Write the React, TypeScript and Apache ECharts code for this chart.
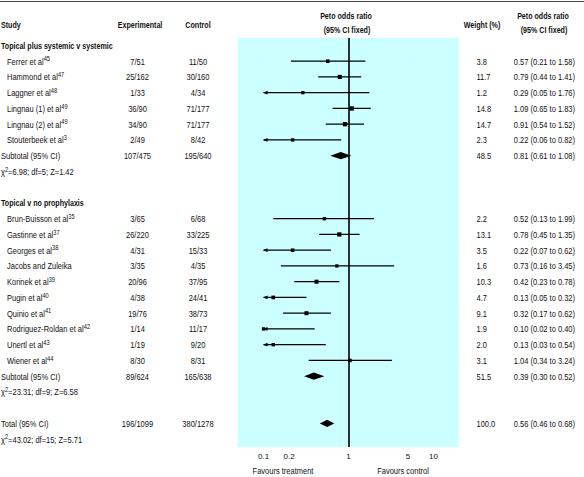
import React, { useEffect, useRef } from "react";
import * as echarts from "echarts";

// ---------- data ----------
const group1Title = "Topical plus systemic v systemic";
const group1Studies = ["Ferrer et al", "Hammond et al", "Laggner et al", "Lingnau (1) et al", "Lingnau (2) et al", "Stouterbeek et al"];
const group1Refs = ["45", "47", "48", "49", "49", "3"];
const group1Exp = ["7/51", "25/162", "1/33", "36/90", "34/90", "2/49"];
const group1Ctrl = ["11/50", "30/160", "4/34", "71/177", "71/177", "8/42"];
const group1Weight = [3.8, 11.7, 1.2, 14.8, 14.7, 2.3];
const group1OR = [0.57, 0.79, 0.29, 1.09, 0.91, 0.22];
const group1Lo = [0.21, 0.44, 0.05, 0.65, 0.54, 0.06];
const group1Hi = [1.58, 1.41, 1.76, 1.83, 1.52, 0.82];

const group2Title = "Topical v no prophylaxis";
const group2Studies = ["Brun-Buisson et al", "Gastinne et al", "Georges et al", "Jacobs and Zuleika", "Korinek et al", "Pugin et al", "Quinio et al", "Rodriguez-Roldan et al", "Unertl et al", "Wiener et al"];
const group2Refs = ["35", "37", "38", "", "39", "40", "41", "42", "43", "44"];
const group2Exp = ["3/65", "26/220", "4/31", "3/35", "20/96", "4/38", "19/76", "1/14", "1/19", "8/30"];
const group2Ctrl = ["6/68", "33/225", "15/33", "4/35", "37/95", "24/41", "38/73", "11/17", "9/20", "8/31"];
const group2Weight = [2.2, 13.1, 3.5, 1.6, 10.3, 4.7, 9.1, 1.9, 2.0, 3.1];
const group2OR = [0.52, 0.78, 0.22, 0.73, 0.42, 0.13, 0.32, 0.10, 0.13, 1.04];
const group2Lo = [0.13, 0.45, 0.07, 0.16, 0.23, 0.05, 0.17, 0.02, 0.03, 0.34];
const group2Hi = [1.99, 1.35, 0.62, 3.45, 0.78, 0.32, 0.62, 0.40, 0.54, 3.24];

const subtotalLabel = "Subtotal (95% CI)";
const subtotalExp = ["107/475", "89/624"];
const subtotalCtrl = ["195/640", "165/638"];
const subtotalWeight = [48.5, 51.5];
const subtotalOR = [0.81, 0.39];
const subtotalLo = [0.61, 0.30];
const subtotalHi = [1.08, 0.52];
const subtotalChi = [6.98, 23.31];
const subtotalDf = [5, 9];
const subtotalZ = [1.42, 6.58];

const totalLabel = "Total (95% CI)";
const totalExp = "196/1099";
const totalCtrl = "380/1278";
const totalWeight = 100.0;
const totalOR = 0.56;
const totalLo = 0.46;
const totalHi = 0.68;
const totalChi = 43.02;
const totalDf = 15;
const totalZ = 5.71;

const tickValues = [0.1, 0.2, 1, 5, 10];
const axisMin = 0.05;
const axisMax = 20;
const arrowCut = 0.1;

const headerStudy = "Study";
const headerExp = "Experimental";
const headerCtrl = "Control";
const headerOR1 = "Peto odds ratio";
const headerOR2 = "(95% CI fixed)";
const headerWeight = "Weight (%)";
const favoursLeft = "Favours treatment";
const favoursRight = "Favours control";

// ---------- layout ----------
const W = 584;
const H = 477;
const ROW_H = 15.75;
const FIRST = 61.2;
const PLOT_L = 238;
const PLOT_T = 38;
const PLOT_W = 221;
const PLOT_B = 447;
const FONT = "'Liberation Sans', Arial, Helvetica, sans-serif";
const FS = 9.5;
const SX_REG = 0.79;
const SX_BOLD = 0.75;
const TXT = "#111111";
const COL_STUDY = 7;
const COL_LEFT = 1;
const COL_EXP = 137.5;
const COL_CTRL = 198;
const COL_W = 476.5;
const COL_OR = 575;

const lg = (v: number) => Math.log10(v);
const fmtOR = (o: number, l: number, h: number) => `${o.toFixed(2)} (${l.toFixed(2)} to ${h.toFixed(2)})`;

type TItem = { x: number; r: number; text: string; align: string; bold?: boolean };

function buildRows() {
  const groups = [
    { title: group1Title, studies: group1Studies, refs: group1Refs, exp: group1Exp, ctrl: group1Ctrl, w: group1Weight, or: group1OR, lo: group1Lo, hi: group1Hi },
    { title: group2Title, studies: group2Studies, refs: group2Refs, exp: group2Exp, ctrl: group2Ctrl, w: group2Weight, or: group2OR, lo: group2Lo, hi: group2Hi },
  ];
  const texts: TItem[] = [];
  const studies: number[][] = [];
  const diamonds: number[][] = [];
  let r = -1;
  groups.forEach((g, gi) => {
    texts.push({ x: COL_LEFT, r, text: g.title, align: "left", bold: true });
    r++;
    g.studies.forEach((name, i) => {
      const sup = g.refs[i] ? `{s|${g.refs[i]}}` : "";
      texts.push({ x: COL_STUDY, r, text: name + sup, align: "left" });
      texts.push({ x: COL_EXP, r, text: g.exp[i], align: "center" });
      texts.push({ x: COL_CTRL, r, text: g.ctrl[i], align: "center" });
      texts.push({ x: COL_W, r, text: g.w[i].toFixed(1), align: "left" });
      texts.push({ x: COL_OR, r, text: fmtOR(g.or[i], g.lo[i], g.hi[i]), align: "right" });
      studies.push([lg(g.or[i]), r, lg(g.lo[i]), lg(g.hi[i]), g.w[i]]);
      r++;
    });
    texts.push({ x: COL_LEFT, r, text: subtotalLabel, align: "left" });
    texts.push({ x: COL_EXP, r, text: subtotalExp[gi], align: "center" });
    texts.push({ x: COL_CTRL, r, text: subtotalCtrl[gi], align: "center" });
    texts.push({ x: COL_W, r, text: subtotalWeight[gi].toFixed(1), align: "left" });
    texts.push({ x: COL_OR, r, text: fmtOR(subtotalOR[gi], subtotalLo[gi], subtotalHi[gi]), align: "right" });
    diamonds.push([lg(subtotalOR[gi]), r, lg(subtotalLo[gi]), lg(subtotalHi[gi])]);
    r++;
    texts.push({ x: COL_LEFT, r, text: `χ{s|2}=${subtotalChi[gi].toFixed(2)}; df=${subtotalDf[gi]}; Z=${subtotalZ[gi].toFixed(2)}`, align: "left" });
    r += 2;
  });
  texts.push({ x: COL_LEFT, r, text: totalLabel, align: "left" });
  texts.push({ x: COL_EXP, r, text: totalExp, align: "center" });
  texts.push({ x: COL_CTRL, r, text: totalCtrl, align: "center" });
  texts.push({ x: COL_W, r, text: totalWeight.toFixed(1), align: "left" });
  texts.push({ x: COL_OR, r, text: fmtOR(totalOR, totalLo, totalHi), align: "right" });
  diamonds.push([lg(totalOR), r, lg(totalLo), lg(totalHi)]);
  r++;
  texts.push({ x: COL_LEFT, r, text: `χ{s|2}=${totalChi.toFixed(2)}; df=${totalDf}; Z=${totalZ.toFixed(2)}`, align: "left" });
  return { texts, studies, diamonds };
}

function headerText(x: number, y: number, text: string, align: string, bold = true) {
  return {
    type: "text",
    x,
    y,
    scaleX: bold ? SX_BOLD : SX_REG,
    silent: true,
    style: {
      text,
      fill: TXT,
      font: `${bold ? "bold " : ""}${FS}px ${FONT}`,
      fontFamily: FONT,
      fontSize: FS,
      fontWeight: bold ? "bold" : "normal",
      align,
      textAlign: align,
      verticalAlign: "middle",
      textVerticalAlign: "middle",
    },
  };
}

function buildOption() {
  const { texts, studies, diamonds } = buildRows();
  const rMinPlot = (PLOT_T - FIRST) / ROW_H;
  const rMaxPlot = (PLOT_B - FIRST) / ROW_H;
  const rMinPage = (0 - FIRST) / ROW_H;
  const rMaxPage = (H - FIRST) / ROW_H;
  const tickPos = tickValues.map(lg);
  const cut = lg(arrowCut);

  return {
    animation: false,
    grid: [
      { left: PLOT_L, top: PLOT_T, width: PLOT_W, height: PLOT_B - PLOT_T, show: true, backgroundColor: "#ccffff", borderWidth: 0 },
      { left: 0, top: 0, width: W, height: H, show: false },
    ],
    xAxis: [
      {
        type: "value",
        gridIndex: 0,
        min: lg(axisMin),
        max: lg(axisMax),
        splitLine: { show: false },
        axisLine: { show: false },
        axisTick: { show: true, inside: true, length: 3, lineStyle: { color: "#ffffff", width: 1 }, customValues: tickPos },
        axisLabel: {
          customValues: tickPos,
          formatter: (v: number) => String(Number(Math.pow(10, v).toPrecision(6))),
          fontSize: 8,
          fontFamily: FONT,
          color: TXT,
          margin: 5,
        },
      },
      { type: "value", gridIndex: 1, min: 0, max: W, show: false },
    ],
    yAxis: [
      { type: "value", gridIndex: 0, inverse: true, min: rMinPlot, max: rMaxPlot, show: false },
      { type: "value", gridIndex: 1, inverse: true, min: rMinPage, max: rMaxPage, show: false },
    ],
    graphic: [
      { type: "line", silent: true, shape: { x1: 0, y1: 1.5, x2: W, y2: 1.5 }, style: { stroke: "#444", lineWidth: 1.2 } },
      headerText(COL_LEFT, 25, headerStudy, "left"),
      headerText(140, 25, headerExp, "center"),
      headerText(COL_CTRL, 25, headerCtrl, "center"),
      headerText(346, 16, headerOR1, "center"),
      headerText(347, 30, headerOR2, "center"),
      headerText(482, 25, headerWeight, "center"),
      headerText(543, 16, headerOR1, "center"),
      headerText(544, 30, headerOR2, "center"),
      headerText(283, 471, favoursLeft, "center", false),
      headerText(403, 471, favoursRight, "center", false),
    ],
    series: [
      {
        type: "custom",
        name: "studies",
        xAxisIndex: 0,
        yAxisIndex: 0,
        data: studies,
        silent: true,
        renderItem: (_p: any, api: any) => {
          const orV = api.value(0);
          const r = api.value(1);
          const loV = api.value(2);
          const hiV = api.value(3);
          const w = api.value(4);
          const c = api.coord([orV, r]);
          const clipped = loV < cut;
          const pL = api.coord([clipped ? cut : loV, r]);
          const pH = api.coord([hiV, r]);
          const s = 2.8 + 0.4 * Math.sqrt(w);
          const children: any[] = [
            { type: "line", shape: { x1: pL[0], y1: pL[1], x2: pH[0], y2: pH[1] }, style: { stroke: "#000", lineWidth: 1.2 } },
            { type: "rect", shape: { x: c[0] - s / 2, y: c[1] - s / 2, width: s, height: s }, style: { fill: "#000" } },
          ];
          if (clipped) {
            children.push({
              type: "polygon",
              shape: { points: [[pL[0] - 0.5, pL[1]], [pL[0] + 4, pL[1] - 1.9], [pL[0] + 4, pL[1] + 1.9]] },
              style: { fill: "#000" },
            });
          }
          return { type: "group", children };
        },
      },
      {
        type: "custom",
        name: "pooled",
        xAxisIndex: 0,
        yAxisIndex: 0,
        data: diamonds,
        silent: true,
        renderItem: (_p: any, api: any) => {
          const r = api.value(1);
          const c = api.coord([api.value(0), r]);
          const l = api.coord([api.value(2), r]);
          const h = api.coord([api.value(3), r]);
          const hh = 3.6;
          return {
            type: "polygon",
            shape: { points: [[l[0], l[1]], [c[0], c[1] - hh], [h[0], h[1]], [c[0], c[1] + hh]] },
            style: { fill: "#000" },
          };
        },
        markLine: {
          silent: true,
          symbol: ["none", "none"],
          label: { show: false },
          lineStyle: { color: "#000", width: 1.6, type: "solid" },
          data: [{ xAxis: lg(1) }],
        },
      },
      {
        type: "custom",
        name: "table",
        xAxisIndex: 1,
        yAxisIndex: 1,
        data: texts.map((t) => [t.x, t.r]),
        silent: true,
        renderItem: (p: any, api: any) => {
          const t = texts[p.dataIndex];
          const pt = api.coord([api.value(0), api.value(1)]);
          return {
            type: "text",
            x: pt[0],
            y: pt[1],
            scaleX: t.bold ? SX_BOLD : SX_REG,
            style: {
              text: t.text,
              fill: TXT,
              fontFamily: FONT,
              fontSize: FS,
              fontWeight: t.bold ? "bold" : "normal",
              lineHeight: 12,
              align: t.align,
              verticalAlign: "middle",
              rich: {
                s: { fontSize: 7.2, lineHeight: 7.5, verticalAlign: "top", fill: TXT, fontFamily: FONT },
              },
            },
          };
        },
      },
    ],
  };
}

export default function App() {
  const ref = useRef<HTMLDivElement>(null);
  useEffect(() => {
    document.body.style.margin = "0";
    if (!ref.current) return;
    const chart = echarts.init(ref.current, null, { renderer: "svg" });
    chart.setOption(buildOption() as any);
    return () => chart.dispose();
  }, []);
  return <div ref={ref} style={{ width: W, height: H, background: "#fff" }} />;
}
